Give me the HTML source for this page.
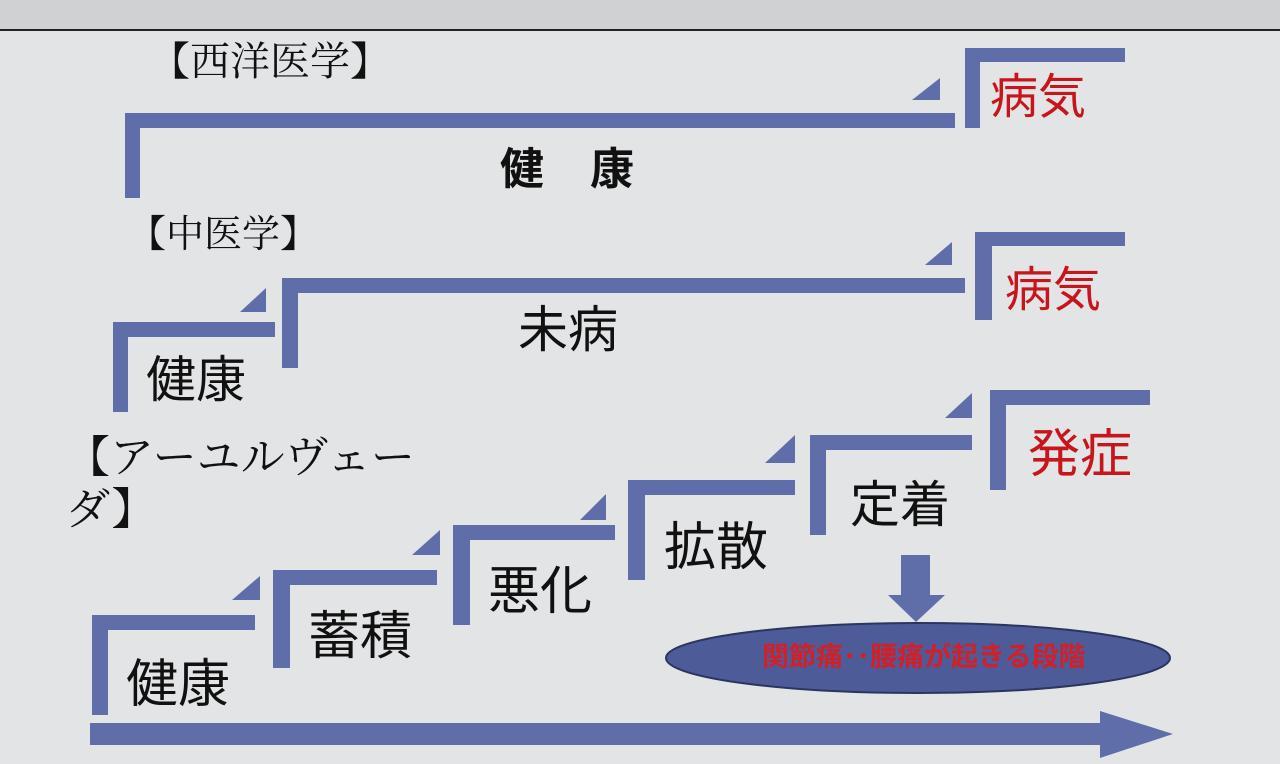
<!DOCTYPE html>
<html><head><meta charset="utf-8"><style>
html,body{margin:0;padding:0;}
body{width:1280px;height:764px;overflow:hidden;background:#e2e4e6;position:relative;font-family:"Liberation Sans","Noto Sans CJK JP",sans-serif;}
.t{position:absolute;white-space:nowrap;color:#111;line-height:1;}
.s{font-family:"Liberation Serif","Noto Serif CJK SC",serif;}
</style></head><body>
<div style="position:absolute;left:0;top:0;width:1280px;height:30px;background:#cfd1d3"></div>
<div style="position:absolute;left:0;top:29px;width:1280px;height:2px;background:#222"></div>
<svg width="1280" height="764" style="position:absolute;left:0;top:0">
<g fill="#5f6ea8">
<rect x="125" y="113" width="830" height="15"/><rect x="125" y="113" width="15" height="85"/>
<polygon points="912,100 940,100 940,78"/>
<rect x="965" y="48" width="160" height="14"/><rect x="965" y="48" width="15" height="80"/>
<rect x="113" y="322" width="162" height="15"/><rect x="113" y="322" width="15" height="90"/>
<polygon points="240,312 266,312 266,288"/>
<rect x="282" y="278" width="683" height="15"/><rect x="282" y="278" width="16" height="90"/>
<polygon points="925,265 952,265 952,242"/>
<rect x="975" y="232" width="150" height="14"/><rect x="975" y="232" width="17" height="88"/>
<rect x="92" y="615" width="163" height="15"/><rect x="92" y="615" width="16" height="100"/>
<polygon points="232,600 260,600 260,576"/>
<rect x="273" y="570" width="164" height="15"/><rect x="273" y="570" width="17" height="98"/>
<polygon points="412,555 440,555 440,530"/>
<rect x="453" y="525" width="162" height="15"/><rect x="453" y="525" width="17" height="100"/>
<polygon points="580,520 606,520 606,494"/>
<rect x="628" y="480" width="167" height="15"/><rect x="628" y="480" width="17" height="100"/>
<polygon points="765,463 795,463 795,435"/>
<rect x="810" y="435" width="162" height="15"/><rect x="810" y="435" width="16" height="100"/>
<polygon points="945,418 972,418 972,393"/>
<rect x="990" y="390" width="160" height="15"/><rect x="990" y="390" width="16" height="100"/>
<rect x="901" y="555" width="29" height="42"/><polygon points="888,595 945,595 916,622"/>
<rect x="90" y="723" width="1012" height="22"/><polygon points="1100,711 1173,734 1100,758"/>
</g>
<ellipse cx="918" cy="658" rx="252" ry="35" fill="#4d5c98" stroke="#2a3560" stroke-width="2"/>
</svg>
<div class="t s" style="left:150px;top:42px;font-size:40px">【西洋医学】</div>
<div class="t" style="left:990px;top:74px;font-size:48px;color:#c8151b">病気</div>
<div class="t" style="left:500px;top:148px;font-size:44px;font-weight:bold;letter-spacing:46px">健康</div>
<div class="t s" style="left:128px;top:216px;font-size:38px">【中医学】</div>
<div class="t" style="left:1005px;top:267px;font-size:48px;color:#c8151b">病気</div>
<div class="t" style="left:518px;top:305px;font-size:50px">未病</div>
<div class="t" style="left:146px;top:355px;font-size:50px">健康</div>
<div class="t s" style="left:66px;top:432px;font-size:44px;line-height:52px">【アーユルヴェー<br>ダ】</div>
<div class="t" style="left:1028px;top:429px;font-size:52px;color:#c8151b">発症</div>
<div class="t" style="left:850px;top:480px;font-size:50px">定着</div>
<div class="t" style="left:664px;top:522px;font-size:52px">拡散</div>
<div class="t" style="left:488px;top:566px;font-size:52px">悪化</div>
<div class="t" style="left:308px;top:611px;font-size:52px">蓄積</div>
<div class="t" style="left:126px;top:659px;font-size:52px">健康</div>
<div class="t" style="left:762px;top:644px;font-size:27px;font-weight:bold;color:#d0202a;letter-spacing:0px">関節痛･･腰痛が起きる段階</div>
</body></html>
